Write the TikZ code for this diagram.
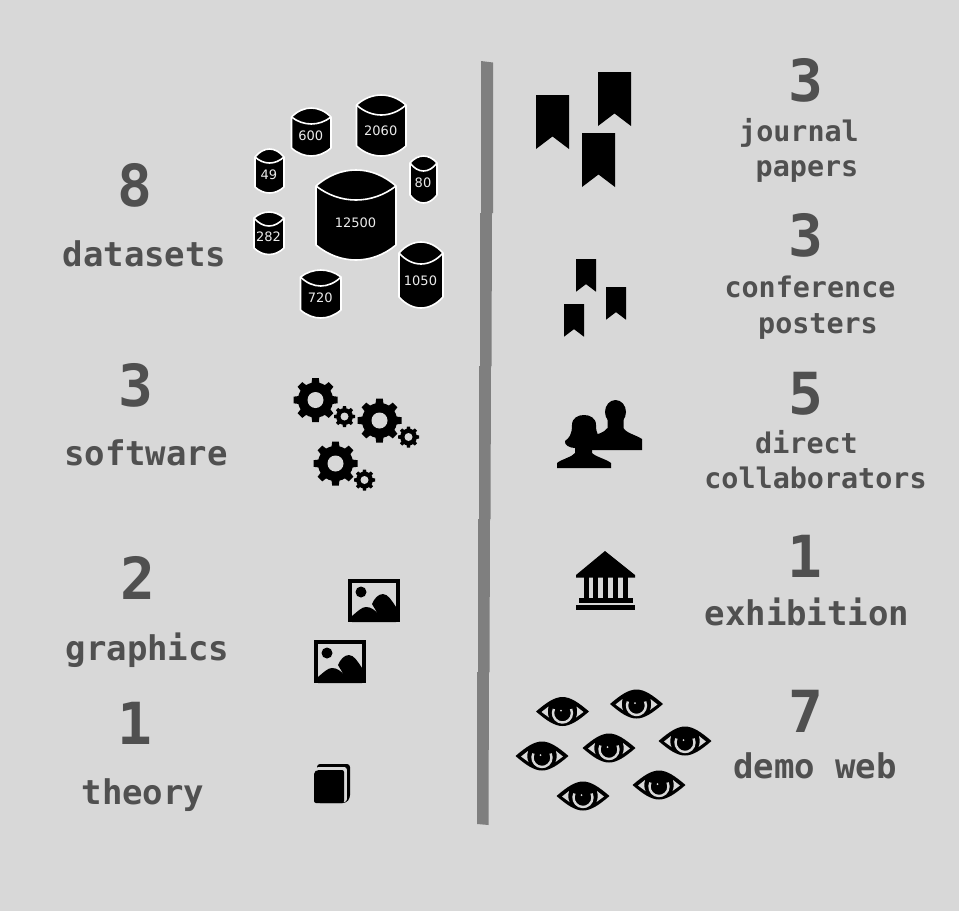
\documentclass[tikz,border=0pt]{standalone}
\usepackage{fontspec}
\newfontfamily\monob{DejaVu Sans Mono Bold}
\newfontfamily\sanslab{DejaVu Sans}
\definecolor{bgc}{HTML}{D8D8D8}
\definecolor{txt}{HTML}{505050}
\definecolor{barc}{HTML}{7F7F7F}
\tikzset{
  bignum/.style={inner sep=0,anchor=base,text=txt,font=\monob\fontsize{58}{58}\selectfont},
  biglab/.style={inner sep=0,anchor=base,text=txt,font=\monob\fontsize{34}{34}\selectfont},
  smalllab/.style={inner sep=0,anchor=base,text=txt,font=\monob\fontsize{28.4}{28.4}\selectfont},
  cyllab/.style={inner sep=0,text=white!92!black,font=\sanslab\fontsize{13}{13}\selectfont},
  cylline/.style={draw=white,line width=1.6pt,fill=black,line join=round},
  barseg/.style={fill=barc,draw=none},
}
% left, right, peak, shoulder, dip, bottom shoulder, bottom, label y, label
\newcommand{\cylshape}[9]{%
  \pgfmathsetmacro{\cm}{(#1+#2)/2}%
  \pgfmathsetmacro{\wq}{(#2-#1)*0.2}%
  \pgfmathsetmacro{\ya}{#4+(#3-#4)*4/3}%
  \pgfmathsetmacro{\yb}{#4+(#5-#4)*4/3}%
  \pgfmathsetmacro{\yc}{#6+(#7-#6)*4/3}%
  \filldraw[cylline] (#1,#4) .. controls (\cm-\wq,\ya) and (\cm+\wq,\ya) .. (#2,#4)
    -- (#2,#6) .. controls (\cm+\wq,\yc) and (\cm-\wq,\yc) .. (#1,#6) -- cycle;
  \draw[draw=white,line width=1.6pt] (#1,#4) .. controls (\cm-\wq,\yb) and (\cm+\wq,\yb) .. (#2,#4);
  \node[cyllab] at (\cm-0.5,#8) {#9};
}
\newcommand{\gearshape}[4]{% x y R hole
  \foreach \a in {0,45,...,315}{
    \fill[black,rotate around={\a:(#1,#2)}] (#1-0.2*#3,#2-0.6*#3) -- (#1-0.15*#3,#2-#3) -- (#1+0.15*#3,#2-#3) -- (#1+0.2*#3,#2-0.6*#3) -- cycle;
  }
  \fill[black] (#1,#2) circle ({0.8*#3});
  \fill[bgc] (#1,#2) circle (#4);
}
\newcommand{\pictureicon}[2]{%
  \begin{scope}[shift={(#1,#2)}]
    \fill[black] (0,0) rectangle (52,43);
    \fill[bgc] (4,4) rectangle (48,39);
    \fill[black] (13,13) circle (5.5);
    \fill[black] (4,39) -- (4,37) .. controls (10,32) and (14,28) .. (18,28)
       .. controls (23,28) and (27,31) .. (30,35) -- (24,25)
       .. controls (26,20) and (30,15) .. (35,15)
       .. controls (40,15) and (44,22) .. (48,28) -- (48,43) -- (4,43) -- cycle;
  \end{scope}}
\newcommand{\bookmarkicon}[3]{% left top width
  \pgfmathsetmacro{\hh}{#3*54/33}%
  \fill[black] (#1,#2) -- ++(#3,0) -- ++(0,\hh) -- ++({-#3/2},{-#3*0.38}) -- ++({-#3/2},{#3*0.38}) -- cycle;
}
\newcommand{\eyeicon}[2]{%
  \begin{scope}[shift={(#1,#2)}]
    \fill[black] (-26.5,0) .. controls (-16,-9) and (-8,-14.5) .. (0,-14.5)
      .. controls (8,-14.5) and (16,-9) .. (26.5,0)
      .. controls (16,9) and (8,14.5) .. (0,14.5)
      .. controls (-8,14.5) and (-16,9) .. (-26.5,0) -- cycle;
    \fill[bgc] (-21,0.5) -- (-14,-5) .. controls (-15,-1) and (-15,3) .. (-13.5,6) -- cycle;
    \fill[bgc] (21,0.5) -- (14,-5) .. controls (15,-1) and (15,3) .. (13.5,6) -- cycle;
    \draw[bgc,line width=2.4pt] (0,1.5) ++(205:9.5) arc[start angle=205,end angle=-25,radius=9.5];
    \fill[bgc] (-1.5,-1) circle (1);
  \end{scope}}
\begin{document}
\begin{tikzpicture}[x=1pt,y=-1pt]
\useasboundingbox (0,0) rectangle (959,911);
\fill[bgc] (0,0) rectangle (959,911);
% central bar
\fill[barseg] (481,61) -- (493,62.5) -- (493,213) -- (481,213) -- cycle;
\fill[barseg] (480,213) -- (492,213) -- (491.5,366) -- (480,366) -- cycle;
\fill[barseg] (479,366) -- (491,366) -- (490.5,519) -- (479,519) -- cycle;
\fill[barseg] (478,519) -- (490,519) -- (489.5,672) -- (478,672) -- cycle;
\fill[barseg] (477,672) -- (489,672) -- (488.5,825) -- (477,824) -- cycle;
% left labels
\node[bignum] (n8) at (135,206) {8};
\node[biglab] (l8) at (144.5,266) {datasets};
\node[bignum] (n3a) at (136,406) {3};
\node[biglab] (l3a) at (146,465) {software};
\node[bignum] (n2) at (138,599) {2};
\node[biglab] (l2) at (147.5,660) {graphics};
\node[bignum] (n1a) at (134.5,744) {1};
\node[biglab] (l1a) at (143,804) {theory};
% right labels
\node[bignum] (r3a) at (805.5,101) {3};
\node[smalllab] (ra1) at (799,141) {journal};
\node[smalllab] (ra2) at (807,176) {papers};
\node[bignum] (r3b) at (805.5,256) {3};
\node[smalllab] (rb1) at (810,297) {conference};
\node[smalllab] (rb2) at (818,333) {posters};
\node[bignum] (r5) at (805.5,414) {5};
\node[smalllab] (rc1) at (806.5,453) {direct};
\node[smalllab] (rc2) at (815.5,488) {collaborators};
\node[bignum] (r1) at (805,577) {1};
\node[biglab] (rd) at (807,625) {exhibition};
\node[bignum] (r7) at (805.5,732) {7};
\node[biglab] (re) at (815,778.5) {demo web};
% cylinders
\cylshape{316}{396}{170}{186}{200}{245}{260}{222.5}{12500}
\cylshape{356.5}{406}{95}{105}{115}{146}{156}{130.5}{2060}
\cylshape{291.5}{331}{108}{117}{124}{148}{156}{135.5}{600}
\cylshape{255}{284}{149}{157}{163}{187}{193}{174.5}{49}
\cylshape{410}{437}{156}{163}{171}{195}{203}{182.5}{80}
\cylshape{254}{284}{212}{218}{226}{248}{254.5}{236.5}{282}
\cylshape{300.5}{341}{270}{277}{286}{310}{318}{297.5}{720}
\cylshape{399}{443}{242}{253}{264}{297}{308}{280.5}{1050}
% gears
\gearshape{315.5}{400}{22}{8}
\gearshape{344.5}{416.5}{10.5}{4}
\gearshape{379.5}{420.5}{22}{8}
\gearshape{408.5}{437}{10.5}{4}
\gearshape{335.5}{463.5}{22}{8}
\gearshape{364.5}{480}{10.5}{4}
% pictures
\pictureicon{348}{579}
\pictureicon{314}{640}
% documents
\fill[black,rounded corners=3pt] (317,764) -- (350,764) -- (350,798) -- (346,803) -- (317,803) -- cycle;
\fill[bgc,rounded corners=2.5pt] (316,767) -- (346.8,767) -- (346.8,802) -- (316,802) -- cycle;
\fill[black,rounded corners=2pt] (314,803) -- (314,772) -- (317,770) -- (344,770) -- (344,803) -- cycle;
% bookmarks
\bookmarkicon{536}{95}{33}
\bookmarkicon{598}{72}{33}
\bookmarkicon{582}{133}{33}
\bookmarkicon{576}{259}{20}
\bookmarkicon{606}{287}{20}
\bookmarkicon{564}{304}{20}
% people
\fill[black] (615.5,412) ellipse (10.5 and 12);
\fill[black] (642,450) -- (642,439) .. controls (636,435) and (626,433) .. (623.5,428)
  -- (623.5,418) -- (607.5,418) -- (607.5,428)
  .. controls (604,433) and (597,434) .. (590,437) -- (585,450) -- cycle;
\fill[black] (557,468) -- (557,463) .. controls (562,459) and (572,457) .. (575,453)
  -- (575,448) .. controls (570,448) and (564,445) .. (565,441)
  .. controls (569,438) and (572,435) .. (572,425)
  .. controls (572,418) and (578,415) .. (584,415)
  .. controls (590,415) and (596,418) .. (596,425)
  .. controls (596,433) and (598,437) .. (604,441) -- (604,448) -- (592,449) -- (592,453)
  .. controls (596,457) and (606,459) .. (611,463) -- (611,468) -- cycle;
% museum
\fill[black] (605,551) -- (635,575) -- (635,577.5) -- (576,577.5) -- (576,575) -- cycle;
\foreach \cx in {586,595.5,605.5,615.5,625}{\fill[black] (\cx-2.5,577) rectangle (\cx+2.5,599);}
\fill[black] (578.5,598) rectangle (632.5,602.5);
\fill[black] (576,605) rectangle (635,610);
% eyes
\eyeicon{562.5}{711.5}
\eyeicon{636.5}{704}
\eyeicon{542}{756}
\eyeicon{609}{748}
\eyeicon{685}{741}
\eyeicon{583}{796}
\eyeicon{659}{785}
\end{tikzpicture}
\end{document}
